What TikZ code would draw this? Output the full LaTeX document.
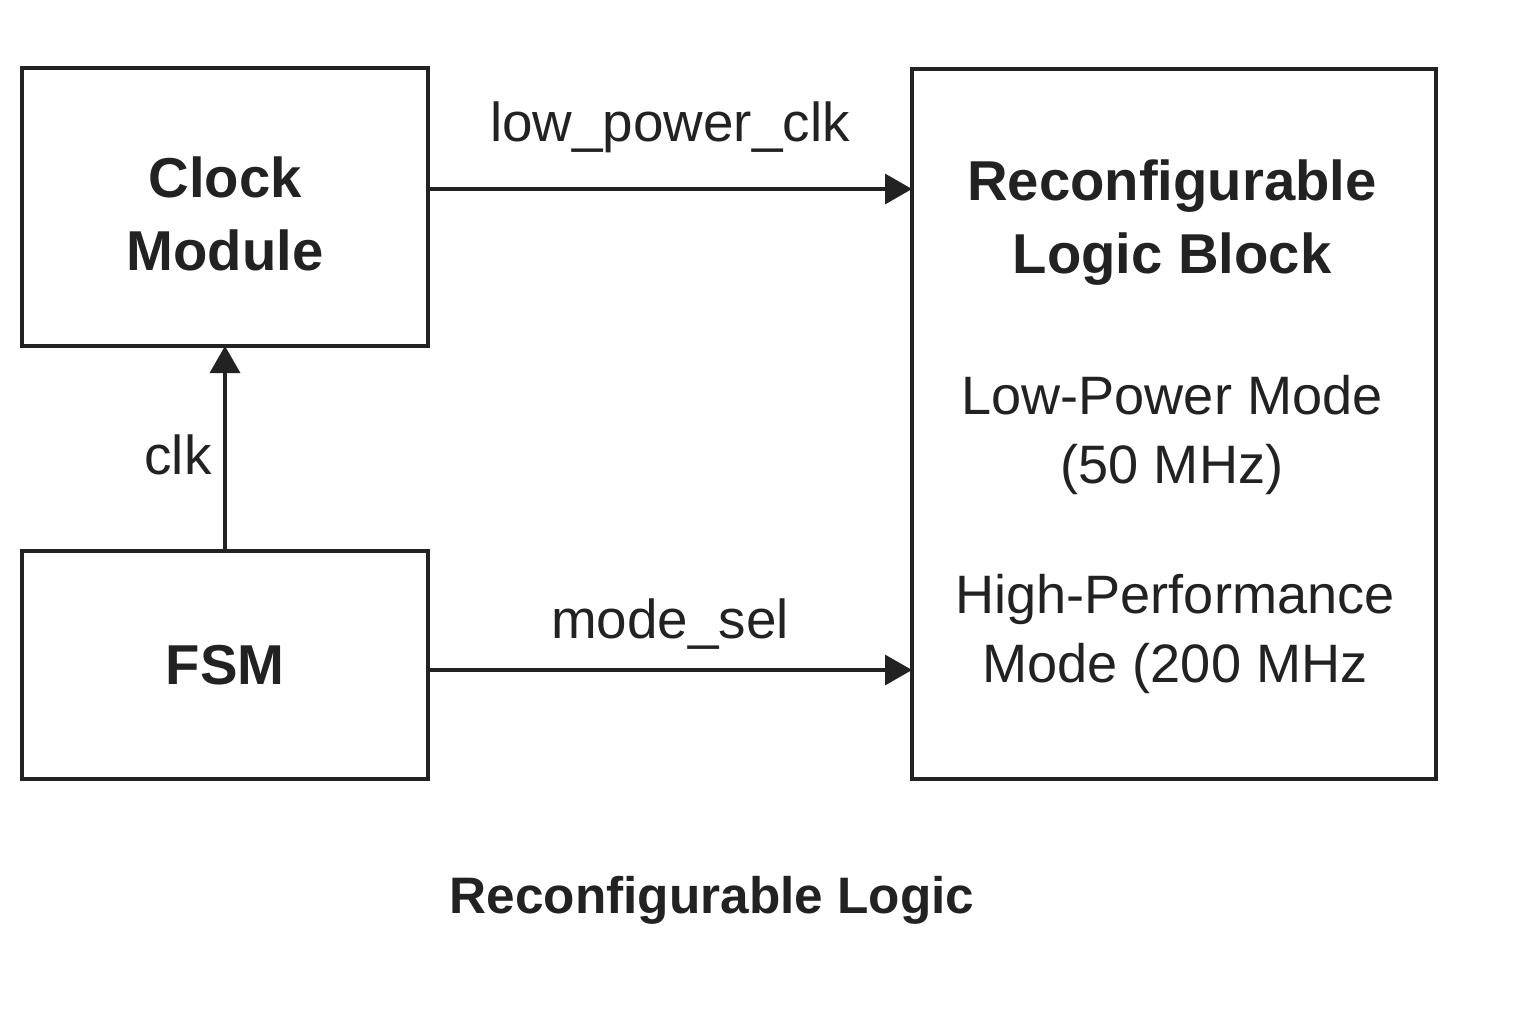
\documentclass[tikz,border=0pt]{standalone}
\usepackage{fontspec}
\setmainfont{Liberation Sans}
\usetikzlibrary{positioning,arrows.meta}
\definecolor{inkgray}{RGB}{34,34,34}

\begin{document}
\begin{tikzpicture}[
    x=1cm, y=1cm,
    line width=1pt,
    block/.style={draw=inkgray, rectangle, outer sep=0pt, align=center,
        font=\fontsize{16}{20.8}\selectfont\bfseries, text=inkgray},
    modetext/.style={align=center, text=inkgray, font=\fontsize{15.4}{19.4}\selectfont},
    sig/.style={text=inkgray, font=\fontsize{15.6}{19}\selectfont},
    arr/.style={-{Triangle[length=0.27cm,width=0.3cm]}, draw=inkgray},
]
\useasboundingbox (0,0) rectangle (15.36,-10.24);

\node[block, minimum width=4.06cm, minimum height=2.78cm, anchor=north west] (clock) at (0.22,-0.68) {};
\node[block, minimum width=4.06cm, minimum height=2.28cm, below=2.05cm of clock] (fsm) {FSM};
\node[block, minimum width=5.24cm, minimum height=7.10cm, anchor=north west] (rlb) at (9.12,-0.69) {};
\node[block, draw=none, align=center] (clocktext) at ([yshift=-0.07cm]clock.center) {Clock\\Module};

% text inside the logic block
\node[block, draw=none, align=center] (rlbtitle) at (11.72,-2.23) {Reconfigurable\\Logic Block};
\node[modetext] (lowmode)  at (11.72,-4.35) {Low-Power Mode\\(50 MHz)};
\node[modetext] (highmode) at (11.75,-6.34) {High-Performance\\Mode (200 MHz};

% signals
\coordinate (lpin) at (rlb.west |- 0,-1.89);
\coordinate (msin) at (rlb.west |- 0,-6.70);
\draw[arr] (clock.east |- lpin) -- node[sig, above=0.23cm] (lpclk) {low\_power\_clk} (lpin);
\draw[arr] (fsm.east |- msin) -- node[sig, above=0.07cm] (modesel) {mode\_sel} (msin);
\draw[arr] (fsm.north) -- node[sig, left=0.0cm, pos=0.47] (clklbl) {clk} (clock.south);

\node[text=inkgray, font=\fontsize{14.6}{18}\selectfont\bfseries] (caption) at (7.12,-9.0) {Reconfigurable Logic};
\end{tikzpicture}
\end{document}
